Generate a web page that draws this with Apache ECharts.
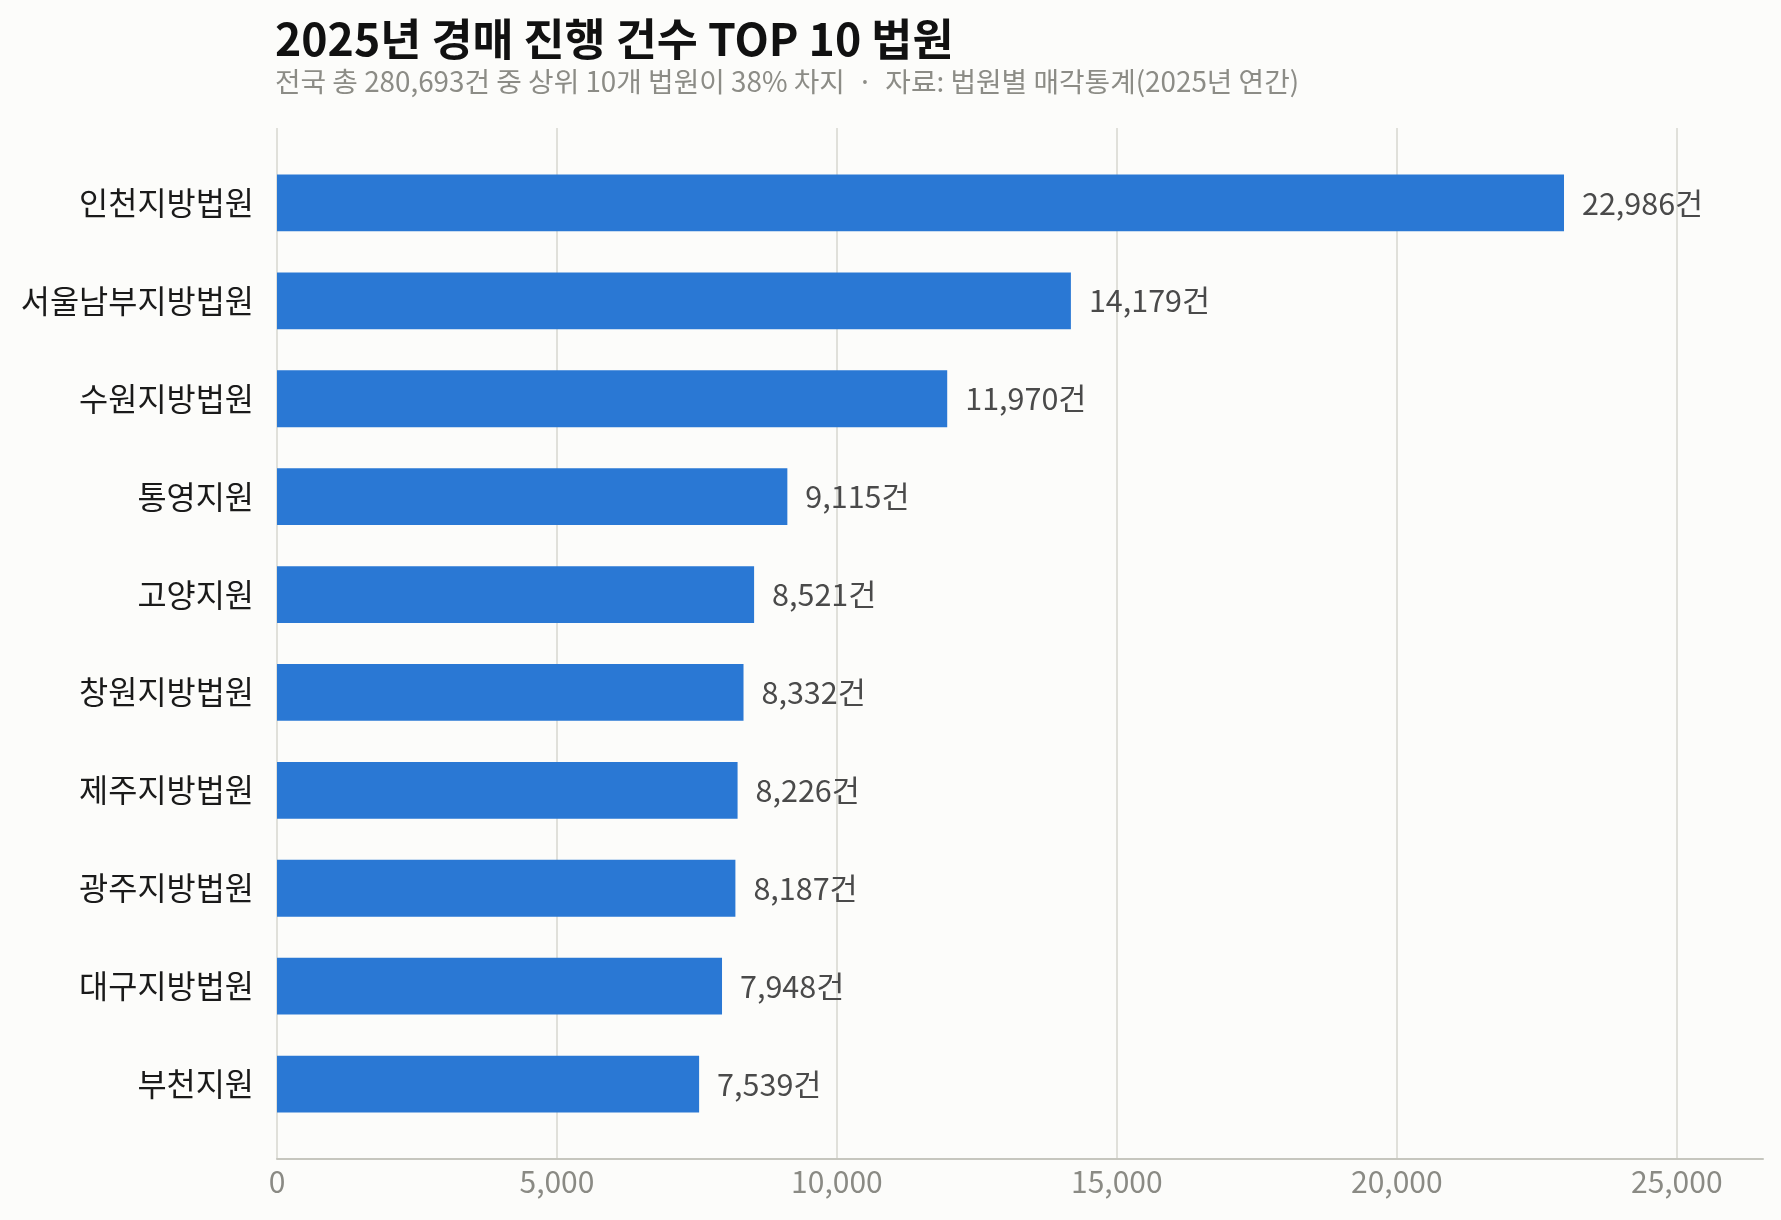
<!DOCTYPE html>
<html>
<head>
<meta charset="utf-8">
<script src="https://cdn.jsdelivr.net/npm/echarts@6/dist/echarts.min.js"></script>
<style>
html,body{margin:0;padding:0;background:#fcfcfa;}
#chart{width:1781px;height:1220px;}
</style>
</head>
<body>
<div id="chart"></div>
<script>
var categories = ['인천지방법원','서울남부지방법원','수원지방법원','통영지원','고양지원','창원지방법원','제주지방법원','광주지방법원','대구지방법원','부천지원'];
var counts = [22986, 14179, 11970, 9115, 8521, 8332, 8226, 8187, 7948, 7539];
var xTicks = [0, 5000, 10000, 15000, 20000, 25000];
var titleText = '2025년 경매 진행 건수 TOP 10 법원';
var subText = '전국 총 280,693건 중 상위 10개 법원이 38% 차지  ·  자료: 법원별 매각통계(2025년 연간)';

var FONT = '"Noto Sans CJK KR", "Noto Sans", sans-serif';
var xMax = 26540;
function fmt(n){ return n.toString().replace(/\B(?=(\d{3})+(?!\d))/g, ','); }

var chart = echarts.init(document.getElementById('chart'), null, {renderer:'canvas'});
chart.setOption({
  backgroundColor: '#fcfcfa',
  animation: false,
  title: {
    text: titleText,
    subtext: subText,
    left: 270,
    top: 8,
    itemGap: 0,
    textStyle: {fontFamily: FONT, fontSize: 44.6, fontWeight: 'bold', color: '#111111', lineHeight: 52},
    subtextStyle: {fontFamily: FONT, fontSize: 27.8, color: '#8c8c86', lineHeight: 32}
  },
  grid: [
    {left: 277, right: 18, top: 154, bottom: 87, containLabel: false},
    {left: 277, right: 18, top: 128, bottom: 61, containLabel: false}
  ],
  xAxis: [
    {gridIndex: 0, type: 'value', min: 0, max: xMax, interval: 5000, show: false},
    {gridIndex: 1, type: 'value', min: 0, max: xMax, interval: 5000,
     axisLine: {show: true, lineStyle: {color: '#c6c6be', width: 2}},
     axisTick: {show: false},
     splitLine: {show: true, showMaxLine: false, lineStyle: {color: '#e0e0da', width: 2}},
     axisLabel: {
       show: true, showMaxLabel: false, margin: 8,
       fontFamily: FONT, fontSize: 30, color: '#8a8a84',
       formatter: function(v){ return xTicks.indexOf(v) >= 0 ? fmt(v) : ''; }
     }
    }
  ],
  yAxis: [
    {gridIndex: 0, type: 'category', data: categories, inverse: true,
     axisLine: {show: false}, axisTick: {show: false}, splitLine: {show: false},
     axisLabel: {fontFamily: FONT, fontSize: 31.7, color: '#1a1a1a', margin: 23}
    },
    {gridIndex: 1, type: 'value', min: 0, max: 1, show: false}
  ],
  series: [{
    type: 'bar',
    xAxisIndex: 0, yAxisIndex: 0,
    data: counts,
    barWidth: '58%',
    itemStyle: {color: '#2a78d4'},
    label: {
      show: true, position: 'right', distance: 18,
      fontFamily: FONT, fontSize: 30.5, color: '#4a4a4a',
      formatter: function(p){ return fmt(p.value) + '건'; }
    }
  }]
});
</script>
</body>
</html>
